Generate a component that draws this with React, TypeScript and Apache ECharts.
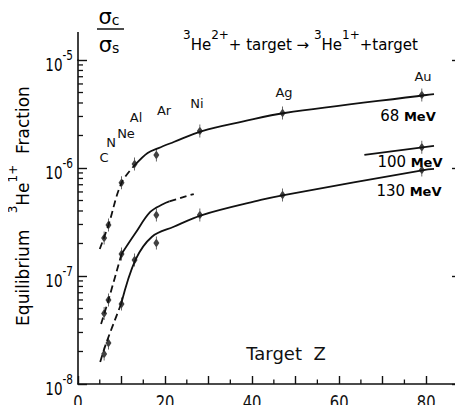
import React, { useEffect, useRef } from "react";
import * as echarts from "echarts";

// ---- axes ----
const X_MIN = 0;
const X_MAX = 88;
const Y_MIN = 1e-8;
const Y_MAX = 1e-5;
const xLabelValues = [0, 20, 40, 60, 80];
const xMinorTicks = [5, 15, 25, 35, 45, 55, 65, 75];
const yLabelValues = [1e-8, 1e-7, 1e-6, 1e-5];
const yDecades = [1e-8, 1e-7, 1e-6];
const yMinorMultipliers = [2, 3, 4, 5, 6, 7, 8, 9];

// ---- target elements ----
const elements = ["C", "N", "Ne", "Al", "Ar", "Ni", "Ag", "Au"];

// ---- measured points (Z, equilibrium fraction) ----
const z68 = [6, 7, 10, 13, 18, 28, 47, 79];
const f68 = [2.25e-7, 2.97e-7, 7.3e-7, 1.09e-6, 1.32e-6, 2.2e-6, 3.23e-6, 4.74e-6];
const z100 = [6, 7, 10, 18, 79];
const f100 = [4.5e-8, 6.0e-8, 1.6e-7, 3.67e-7, 1.56e-6];
const z130 = [6, 7, 10, 13, 18, 28, 47, 79];
const f130 = [1.9e-8, 2.4e-8, 5.5e-8, 1.41e-7, 2.02e-7, 3.67e-7, 5.62e-7, 9.58e-7];

// ---- hand-drawn curves ----
const fit68Dashed = [[5, 1.78e-7], [7, 2.97e-7], [10, 7.27e-7], [13.3, 1.09e-6]];
const fit68Solid = [[13.3, 1.09e-6], [16, 1.38e-6], [18.5, 1.53e-6], [22, 1.74e-6], [28.5, 2.2e-6], [38, 2.7e-6], [47.5, 3.23e-6], [80, 4.74e-6], [81.8, 4.84e-6]];
const fit100Dashed = [[5.3, 3.6e-8], [7, 6.0e-8], [10, 1.6e-7]];
const fit100Solid = [[10, 1.6e-7], [13.2, 2.5e-7], [16.6, 3.92e-7], [19.6, 4.64e-7], [21, 4.9e-7]];
const fit100DashedEnd = [[21, 4.9e-7], [24, 5.35e-7], [26.6, 5.74e-7]];
const fit100Right = [[65.8, 1.32e-6], [81.8, 1.6e-6]];
const fit130Dashed = [[5.1, 1.6e-8], [6.5, 2.4e-8], [9.9, 5.5e-8]];
const fit130Solid = [[9.9, 5.5e-8], [13.2, 1.41e-7], [17, 2.31e-7], [22, 2.86e-7], [28.5, 3.67e-7], [42, 5.06e-7], [47.3, 5.62e-7], [79.4, 9.58e-7], [81.8, 9.8e-7]];

const energyLabels = ["68", "100", "130"];

export default function App() {
  const ref = useRef<HTMLDivElement>(null);
  useEffect(() => {
    const chart = echarts.init(ref.current!, null, { renderer: "svg" });
    const font = "'DejaVu Sans', sans-serif";
    const ink = "#111";

    const curve = (data: number[][], dashed: boolean) => ({
      type: "line",
      data,
      smooth: 0.35,
      symbol: "none",
      silent: true,
      z: 2,
      lineStyle: { color: ink, width: 1.8, type: dashed ? [7, 4] : "solid" },
    });
    const marker = "path://M2.6,0 H3.4 V13 H2.6 Z M3,2 L6,6.5 L3,11 L0,6.5 Z";
    const pts = (zs: number[], fs: number[]) => ({
      type: "scatter",
      data: zs.map((z, i) => [z, fs[i]]),
      symbol: marker,
      symbolSize: [6, 13],
      itemStyle: { color: ink },
      z: 3,
      silent: true,
    });

    const minorY: number[][] = [];
    yDecades.forEach((d) => yMinorMultipliers.forEach((m) => minorY.push([X_MIN, d * m])));

    const supRich = (base: number, sup: number) => ({
      b: { fontSize: base, fontFamily: font, color: ink, verticalAlign: "bottom", lineHeight: base + 8 },
      s: { fontSize: sup, fontFamily: font, color: ink, verticalAlign: "top", lineHeight: sup },
    });

    const elementPos = [
      [104, 157], [111, 142], [126, 133], [136, 117], [164, 110], [197, 103], [284, 92], [423, 76],
    ];
    const energyPos = [[408, 114], [410, 160], [409, 189]];

    const option: any = {
      animation: false,
      backgroundColor: "#fff",
      grid: { left: 78, right: 2, top: 60, bottom: 29 },
      xAxis: {
        type: "value",
        min: X_MIN,
        max: X_MAX,
        interval: 10,
        axisLine: { onZero: false, lineStyle: { color: ink, width: 1.6 } },
        axisTick: { inside: true, length: 8, lineStyle: { color: ink, width: 1.4 } },
        splitLine: { show: false },
        axisLabel: { show: false },
      },
      yAxis: [
        {
          type: "log",
          logBase: 10,
          min: Y_MIN,
          max: Y_MAX,
          axisLine: { show: true, lineStyle: { color: ink, width: 1.6 } },
          axisTick: { show: true, inside: true, length: 9, lineStyle: { color: ink, width: 1.4 } },
          splitLine: { show: false },
          axisLabel: { show: false },
        },
        {
          type: "log",
          logBase: 10,
          position: "right",
          min: Y_MIN,
          max: Y_MAX,
          axisLine: { show: true, lineStyle: { color: ink, width: 1.6 } },
          axisTick: { show: true, inside: true, length: 9, lineStyle: { color: ink, width: 1.4 } },
          splitLine: { show: false },
          axisLabel: { show: false },
        },
      ],
      series: [
        curve(fit68Dashed, true),
        curve(fit68Solid, false),
        curve(fit100Dashed, true),
        curve(fit100Solid, false),
        curve(fit100DashedEnd, true),
        curve(fit100Right, false),
        curve(fit130Dashed, true),
        curve(fit130Solid, false),
        pts(z68, f68),
        pts(z100, f100),
        pts(z130, f130),
        {
          // log minor ticks on both vertical axes
          type: "custom",
          silent: true,
          clip: false,
          data: minorY,
          renderItem: (_p: any, api: any) => {
            const v = api.value(1);
            const l = api.coord([X_MIN, v]);
            const r = api.coord([X_MAX, v]);
            return {
              type: "group",
              children: [
                { type: "line", shape: { x1: l[0], y1: l[1], x2: l[0] + 5, y2: l[1] }, style: { stroke: ink, lineWidth: 1.3 } },
                { type: "line", shape: { x1: r[0] - 5, y1: r[1], x2: r[0], y2: r[1] }, style: { stroke: ink, lineWidth: 1.3 } },
              ],
            };
          },
        },
        {
          // x minor ticks
          type: "custom",
          silent: true,
          clip: false,
          data: xMinorTicks.map((z) => [z, Y_MIN]),
          renderItem: (_p: any, api: any) => {
            const p = api.coord([api.value(0), Y_MIN]);
            return { type: "line", shape: { x1: p[0], y1: p[1], x2: p[0], y2: p[1] - 4.5 }, style: { stroke: ink, lineWidth: 1.3 } };
          },
        },
        {
          // x tick labels (condensed lettering)
          type: "custom",
          silent: true,
          clip: false,
          data: xLabelValues.map((z) => [z, Y_MIN]),
          renderItem: (_p: any, api: any) => {
            const z = api.value(0);
            const p = api.coord([z, Y_MIN]);
            return {
              type: "text", x: p[0], y: p[1] + 18.5, scaleX: 0.74,
              style: { text: String(z), align: "center", verticalAlign: "middle", fontSize: 20, lineHeight: 20, fontFamily: font, fill: ink },
            };
          },
        },
        {
          // y tick labels 10^n
          type: "custom",
          silent: true,
          clip: false,
          data: yLabelValues.map((v) => [X_MIN, v]),
          renderItem: (_p: any, api: any) => {
            const v = api.value(1);
            const p = api.coord([X_MIN, v]);
            return {
              type: "text", x: p[0] - 5, y: p[1] + 1, scaleX: 0.75,
              style: {
                text: `{b|10}{s|${Math.round(Math.log10(v))}}`, align: "right", verticalAlign: "middle",
                rich: supRich(18, 14),
              },
            };
          },
        },
      ],
      graphic: [
        { type: "line", shape: { x1: 78, y1: 32, x2: 78, y2: 61 }, style: { stroke: ink, lineWidth: 1.6 } },
        // sigma_c / sigma_s
        {
          type: "text", x: 109, y: 15,
          style: {
            text: "{g|σ}{c|c}", align: "center", verticalAlign: "middle",
            rich: {
              g: { fontSize: 21, fontFamily: font, color: ink, verticalAlign: "bottom", lineHeight: 24 },
              c: { fontSize: 14, fontFamily: font, color: ink, verticalAlign: "bottom", lineHeight: 15 },
            },
          },
        },
        { type: "line", shape: { x1: 97, y1: 29, x2: 124, y2: 29 }, style: { stroke: ink, lineWidth: 1.5 } },
        {
          type: "text", x: 109, y: 43,
          style: {
            text: "{g|σ}{c|s}", align: "center", verticalAlign: "middle",
            rich: {
              g: { fontSize: 21, fontFamily: font, color: ink, verticalAlign: "bottom", lineHeight: 24 },
              c: { fontSize: 14, fontFamily: font, color: ink, verticalAlign: "bottom", lineHeight: 15 },
            },
          },
        },
        // reaction
        {
          type: "text", x: 183, y: 29,
          style: {
            text: "{s|3}{b|He}{s|2+}{b|+ target → }{s|3}{b|He}{s|1+}{b|+target}",
            align: "left", verticalAlign: "top",
            rich: supRich(15, 12),
          },
        },
        // y axis name
        {
          type: "text", x: 19, y: 206, rotation: Math.PI / 2,
          style: {
            text: "{b|Equilibrium   }{s|3}{b|He}{s|1+}{b|  Fraction}",
            align: "center", verticalAlign: "middle",
            rich: supRich(17, 12),
          },
        },
        // x axis name
        {
          type: "text", x: 286, y: 353,
          style: { text: "Target  Z", align: "center", verticalAlign: "middle", fontSize: 18, fontFamily: font, fill: ink },
        },
        ...elements.map((e, i) => ({
          type: "text", x: elementPos[i][0], y: elementPos[i][1],
          style: { text: e, align: "center", verticalAlign: "middle", fontSize: 13, fontFamily: font, fill: ink },
        })),
        ...energyLabels.map((e, i) => ({
          type: "text", x: energyPos[i][0], y: energyPos[i][1],
          style: {
            text: `{n|${e}}{u| MeV}`, align: "center", verticalAlign: "middle",
            rich: {
              n: { fontSize: 15, fontFamily: font, color: ink, verticalAlign: "bottom", lineHeight: 18 },
              u: { fontSize: 13, fontFamily: font, fontWeight: "bold", color: ink, verticalAlign: "bottom", lineHeight: 17 },
            },
          },
        })),
      ],
    };
    chart.setOption(option);
    return () => chart.dispose();
  }, []);
  return <div ref={ref} style={{ width: 463, height: 413, margin: -8 }} />;
}
